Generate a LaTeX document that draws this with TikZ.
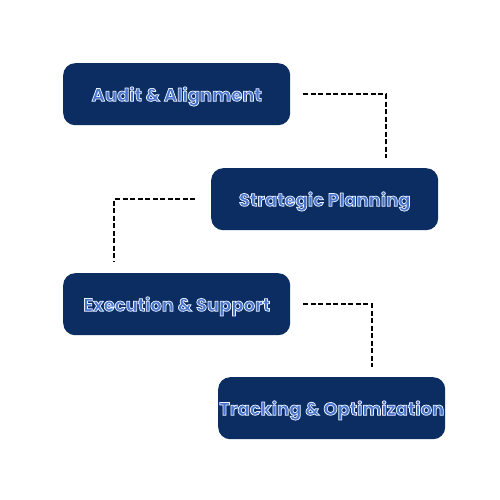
\documentclass[tikz,border=0pt]{standalone}
\usepackage{fontspec}
\setmainfont{Poppins}
\definecolor{navy}{HTML}{0B2D62}
\definecolor{txtblue}{HTML}{4673CC}
\newcommand{\outlined}[1]{\special{pdf:literal direct 2 Tr 0.75 w 0.92 0.94 1 RG}#1\special{pdf:literal direct 0 Tr}}
\tikzset{
  stepbox/.style={fill=navy, rounded corners=12pt, minimum width=227pt, minimum height=62pt, inner sep=0pt,
    text=txtblue, font=\bfseries\fontsize{18}{20}\selectfont, anchor=north west, text depth=0pt, text height=14pt},
  link/.style={draw=black, dash pattern=on 5pt off 2.5pt, line width=1.5pt}
}
\begin{document}
\begin{tikzpicture}[x=1pt,y=-1pt]
\useasboundingbox[fill=white] (0,0) rectangle (500,500);
\node[stepbox] (a) at (63,63) {\outlined{Audit \& Alignment}};
\node[stepbox] (b) at (211,168) {\outlined{Strategic Planning}};
\node[stepbox] (c) at (63,273) {\outlined{Execution \& Support}};
\node[stepbox] (d) at (218,377) {\outlined{Tracking \& Optimization}};
\coordinate (a1) at ([xshift=13pt]a.east);
\coordinate (b1) at ([xshift=-16pt]b.west);
\coordinate (c1) at ([xshift=13pt]c.east);
\coordinate (b0) at ([yshift=10pt]b.north -| 386,0);
\coordinate (c0) at ([yshift=11pt]c.north -| 114,0);
\coordinate (d0) at ([yshift=10pt]d.north -| 372,0);
\draw[link] (a1) -| (b0);
\draw[link] (b1) -| (c0);
\draw[link] (c1) -| (d0);
\end{tikzpicture}
\end{document}
